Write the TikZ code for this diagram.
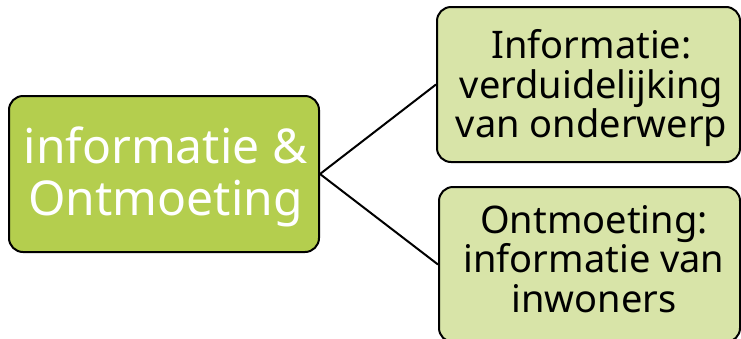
\documentclass[tikz,border=0pt]{standalone}
\usepackage{fontspec}
\setmainfont{Noto Sans}
\definecolor{maingreen}{RGB}{180,206,78}
\definecolor{palegreen}{RGB}{216,228,168}
\begin{document}
\begin{tikzpicture}[x=1pt,y=-1pt,
  boxstyle/.style={draw=black, line width=2pt, rounded corners=14pt, inner sep=0pt},
  bigtext/.style={inner sep=0pt, align=center, text=white, font=\fontsize{48}{52}\selectfont},
  smalltext/.style={inner sep=0pt, align=center, text=black, font=\fontsize{38}{39.5}\selectfont},
  link/.style={draw=black, line width=2pt}]
\useasboundingbox (0,0) rectangle (741,338);
\node[boxstyle, fill=maingreen, minimum width=310pt, minimum height=156pt] (L) at (164,174) {};
\node[boxstyle, fill=palegreen, minimum width=303pt, minimum height=155pt] (T) at (588.5,84.5) {};
\node[boxstyle, fill=palegreen, minimum width=301pt, minimum height=155pt] (B) at (589.5,264.5) {};
\node[bigtext] (Lt) at (165.5,177) {informatie \&\\Ontmoeting};
\node[smalltext] (Tt) at (591.5,88.5) {Informatie:\\verduidelijking\\van onderwerp};
\node[smalltext] (Bt) at (594,259) {Ontmoeting:\\informatie van\\inwoners};
\draw[link] (L.east) -- (T.west);
\draw[link] (L.east) -- (B.west);
\end{tikzpicture}
\end{document}
